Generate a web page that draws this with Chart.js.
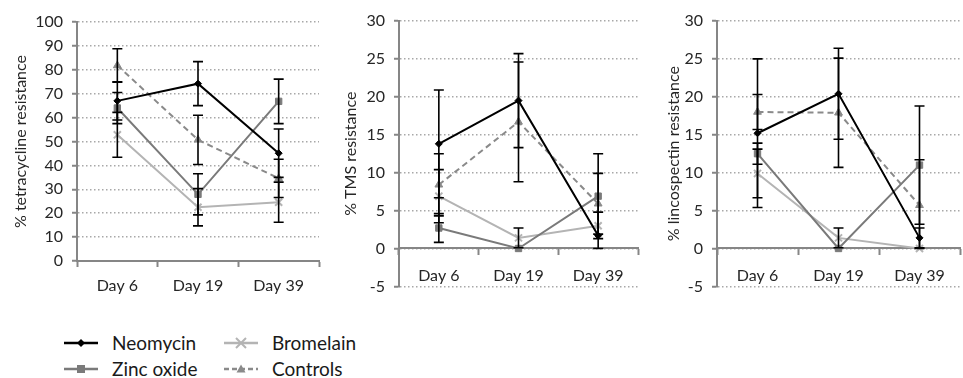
<!DOCTYPE html>
<html>
<head>
<meta charset="utf-8">
<script src="https://cdn.jsdelivr.net/npm/chart.js@4.4.1/dist/chart.umd.min.js"></script>
<style>
    body { margin: 0; background: #fff; width: 963px; height: 378px; overflow: hidden; position: relative; font-family: Lato, 'Liberation Sans', sans-serif; }
    .panel { position: absolute; top: 0; }
    #tet { left: 0; width: 326px; height: 300px; }
    #tms { left: 300px; width: 345px; height: 305px; }
    #lin { left: 630px; width: 337px; height: 305px; }
    .leg { position: absolute; display: flex; align-items: center; font-size: 19px; color: #1a1a1a; }
    .leg svg { margin-right: 14px; }
</style>
</head>
<body>
<div class="panel" id="tet"><canvas id="c1"></canvas></div>
<div class="panel" id="tms"><canvas id="c2"></canvas></div>
<div class="panel" id="lin"><canvas id="c3"></canvas></div>
<div id="legend"></div>
<script>
// categories
const days = ['Day 6', 'Day 19', 'Day 39'];
const seriesNames = ['Neomycin', 'Zinc oxide', 'Bromelain', 'Controls'];

// % tetracycline resistance
const tetNeomycin = [67.0, 74.2, 45.1];
const tetZinc = [64.0, 27.9, 66.8];
const tetBromelain = [52.8, 22.5, 24.6];
const tetControls = [81.8, 50.7, 34.6];
const tetNeomycinErr = [8.0, 9.2, 10.1];
const tetZincErr = [6.5, 8.6, 9.3];
const tetBromelainErr = [9.4, 7.8, 8.4];
const tetControlsErr = [7.0, 10.3, 8.0];

// % TMS resistance
const tmsNeomycin = [13.8, 19.5, 1.7];
const tmsZinc = [2.7, 0.0, 6.9];
const tmsBromelain = [6.9, 1.4, 3.0];
const tmsControls = [8.4, 16.7, 5.9];
const tmsNeomycinErr = [7.1, 6.2, 3.1];
const tmsZincErr = [1.9, 0.0, 5.6];
const tmsBromelainErr = [3.5, 1.3, 0.0];
const tmsControlsErr = [4.1, 7.9, 4.0];

// % lincospectin resistance
const linNeomycin = [15.2, 20.4, 1.4];
const linZinc = [12.5, 0.0, 11.0];
const linBromelain = [9.9, 1.4, 0.0];
const linControls = [18.0, 17.9, 5.7];
const linNeomycinErr = [9.8, 6.0, 1.3];
const linZincErr = [1.4, 0.0, 7.8];
const linBromelainErr = [3.2, 1.3, 0.0];
const linControlsErr = [2.3, 7.2, 6.0];

// look of each series: line colour, marker, dash
const looks = [
    { color: '#000000', point: 'rectRot', radius: 3.5, dash: [] },
    { color: '#7a7a7a', point: 'rect', radius: 4.5, dash: [] },
    { color: '#b4b4b4', point: 'crossRot', radius: 5, dash: [] },
    { color: '#8a8a8a', point: 'triangle', radius: 4.5, dash: [6, 4] }
];

const axisGrey = '#868686';
const tickFont = { family: 'Lato', size: 16 };

// error bars drawn through the y scale
const errorBars = {
    id: 'errorBars',
    afterDatasetsDraw(chart) {
        const ctx = chart.ctx;
        const yScale = chart.scales.y;
        ctx.save();
        ctx.strokeStyle = '#000';
        ctx.lineWidth = 1.6;
        chart.data.datasets.forEach((ds, i) => {
            const meta = chart.getDatasetMeta(i);
            meta.data.forEach((pt, j) => {
                const v = ds.data[j];
                const e = ds.errors[j];
                if (!e) return;
                const top = yScale.getPixelForValue(v + e);
                const bot = yScale.getPixelForValue(Math.max(0, v - e));
                const x = pt.x;
                ctx.beginPath();
                ctx.moveTo(x, top); ctx.lineTo(x, bot);
                ctx.moveTo(x - 5, top); ctx.lineTo(x + 5, top);
                ctx.moveTo(x - 5, bot); ctx.lineTo(x + 5, bot);
                ctx.stroke();
            });
        });
        ctx.restore();
    }
};

function makeChart(canvasId, title, values, errors, cfg) {
    const datasets = values.map((vals, i) => ({
        label: seriesNames[i],
        data: vals,
        errors: errors[i],
        borderColor: looks[i].color,
        backgroundColor: looks[i].color,
        borderWidth: 2,
        borderDash: looks[i].dash,
        pointStyle: looks[i].point,
        pointRadius: looks[i].radius,
        pointBorderWidth: looks[i].point === 'crossRot' ? 2 : 1,
        tension: 0
    }));

    return new Chart(document.getElementById(canvasId), {
        type: 'line',
        data: { labels: days, datasets: datasets },
        plugins: [errorBars],
        options: {
            responsive: true,
            maintainAspectRatio: false,
            animation: false,
            events: [],
            layout: { padding: cfg.padding },
            plugins: { legend: { display: false }, tooltip: { enabled: false } },
            scales: {
                x: {
                    position: cfg.xPos,
                    offset: true,
                    grid: {
                        offset: true,
                        drawOnChartArea: false,
                        drawTicks: true,
                        tickLength: 6,
                        tickColor: axisGrey,
                        tickWidth: 2
                    },
                    border: { color: axisGrey, width: 2 },
                    ticks: { font: tickFont, color: '#262626', padding: cfg.xPad, maxRotation: 0 },
                    afterFit: s => { if (cfg.xHeight) s.height = cfg.xHeight; }
                },
                y: {
                    min: cfg.min,
                    max: cfg.max,
                    ticks: { stepSize: cfg.step, font: tickFont, color: '#262626', padding: 9 },
                    grid: {
                        color: '#a8a8a8',
                        lineWidth: 1.5,
                        drawTicks: true,
                        tickLength: 5,
                        tickColor: axisGrey,
                        tickWidth: 2,
                        tickBorderDash: []
                    },
                    border: { color: axisGrey, width: 2, dash: [1.5, 2.5] },
                    title: {
                        display: true,
                        text: title,
                        font: { family: 'Lato', size: 16 },
                        color: '#262626',
                        padding: { top: cfg.titlePad, bottom: 0 }
                    },
                    afterFit: s => { s.width = cfg.yWidth; }
                }
            }
        }
    });
}

makeChart('c1', '% tetracycline resistance',
    [tetNeomycin, tetZinc, tetBromelain, tetControls],
    [tetNeomycinErr, tetZincErr, tetBromelainErr, tetControlsErr],
    { min: 0, max: 100, step: 10, yWidth: 77, titlePad: 11, xPos: 'bottom', xHeight: 39, xPad: 9,
      padding: { top: 22, right: 2, bottom: 0, left: 0 } });

makeChart('c2', '% TMS resistance',
    [tmsNeomycin, tmsZinc, tmsBromelain, tmsControls],
    [tmsNeomycinErr, tmsZincErr, tmsBromelainErr, tmsControlsErr],
    { min: -5, max: 30, step: 5, yWidth: 99, titlePad: 41, xPos: { y: 0 }, xHeight: 0, xPad: 12,
      padding: { top: 21, right: 3, bottom: 12, left: 0 } });

makeChart('c3', '% lincospectin resistance',
    [linNeomycin, linZinc, linBromelain, linControls],
    [linNeomycinErr, linZincErr, linBromelainErr, linControlsErr],
    { min: -5, max: 30, step: 5, yWidth: 87, titlePad: 34, xPos: { y: 0 }, xHeight: 0, xPad: 12,
      padding: { top: 21, right: 0, bottom: 15, left: 0 } });

// legend, two columns
function markerSvg(look) {
    const c = look.color;
    let m = '';
    if (look.point === 'rectRot') m = `<path d="M17 6 L21 10 L17 14 L13 10 Z" fill="${c}"/>`;
    if (look.point === 'rect') m = `<rect x="13" y="6" width="8" height="8" fill="${c}"/>`;
    if (look.point === 'crossRot') m = `<path d="M12 5 L22 15 M22 5 L12 15" stroke="${c}" stroke-width="2"/>`;
    if (look.point === 'triangle') m = `<path d="M17 5.5 L21.5 13.5 L12.5 13.5 Z" fill="${c}"/>`;
    const dash = look.dash.length ? 'stroke-dasharray="5 3"' : '';
    return `<svg width="34" height="20"><line x1="0" y1="10" x2="34" y2="10" stroke="${c}" stroke-width="2.5" ${dash}/>${m}</svg>`;
}
const legendSpots = [
    { left: 64, top: 331 },
    { left: 64, top: 357 },
    { left: 224, top: 331 },
    { left: 224, top: 357 }
];
const legendEl = document.getElementById('legend');
seriesNames.forEach((name, i) => {
    const item = document.createElement('div');
    item.className = 'leg';
    item.style.left = legendSpots[i].left + 'px';
    item.style.top = legendSpots[i].top + 'px';
    item.innerHTML = markerSvg(looks[i]) + `<span>${name}</span>`;
    legendEl.appendChild(item);
});
</script>
</body>
</html>
